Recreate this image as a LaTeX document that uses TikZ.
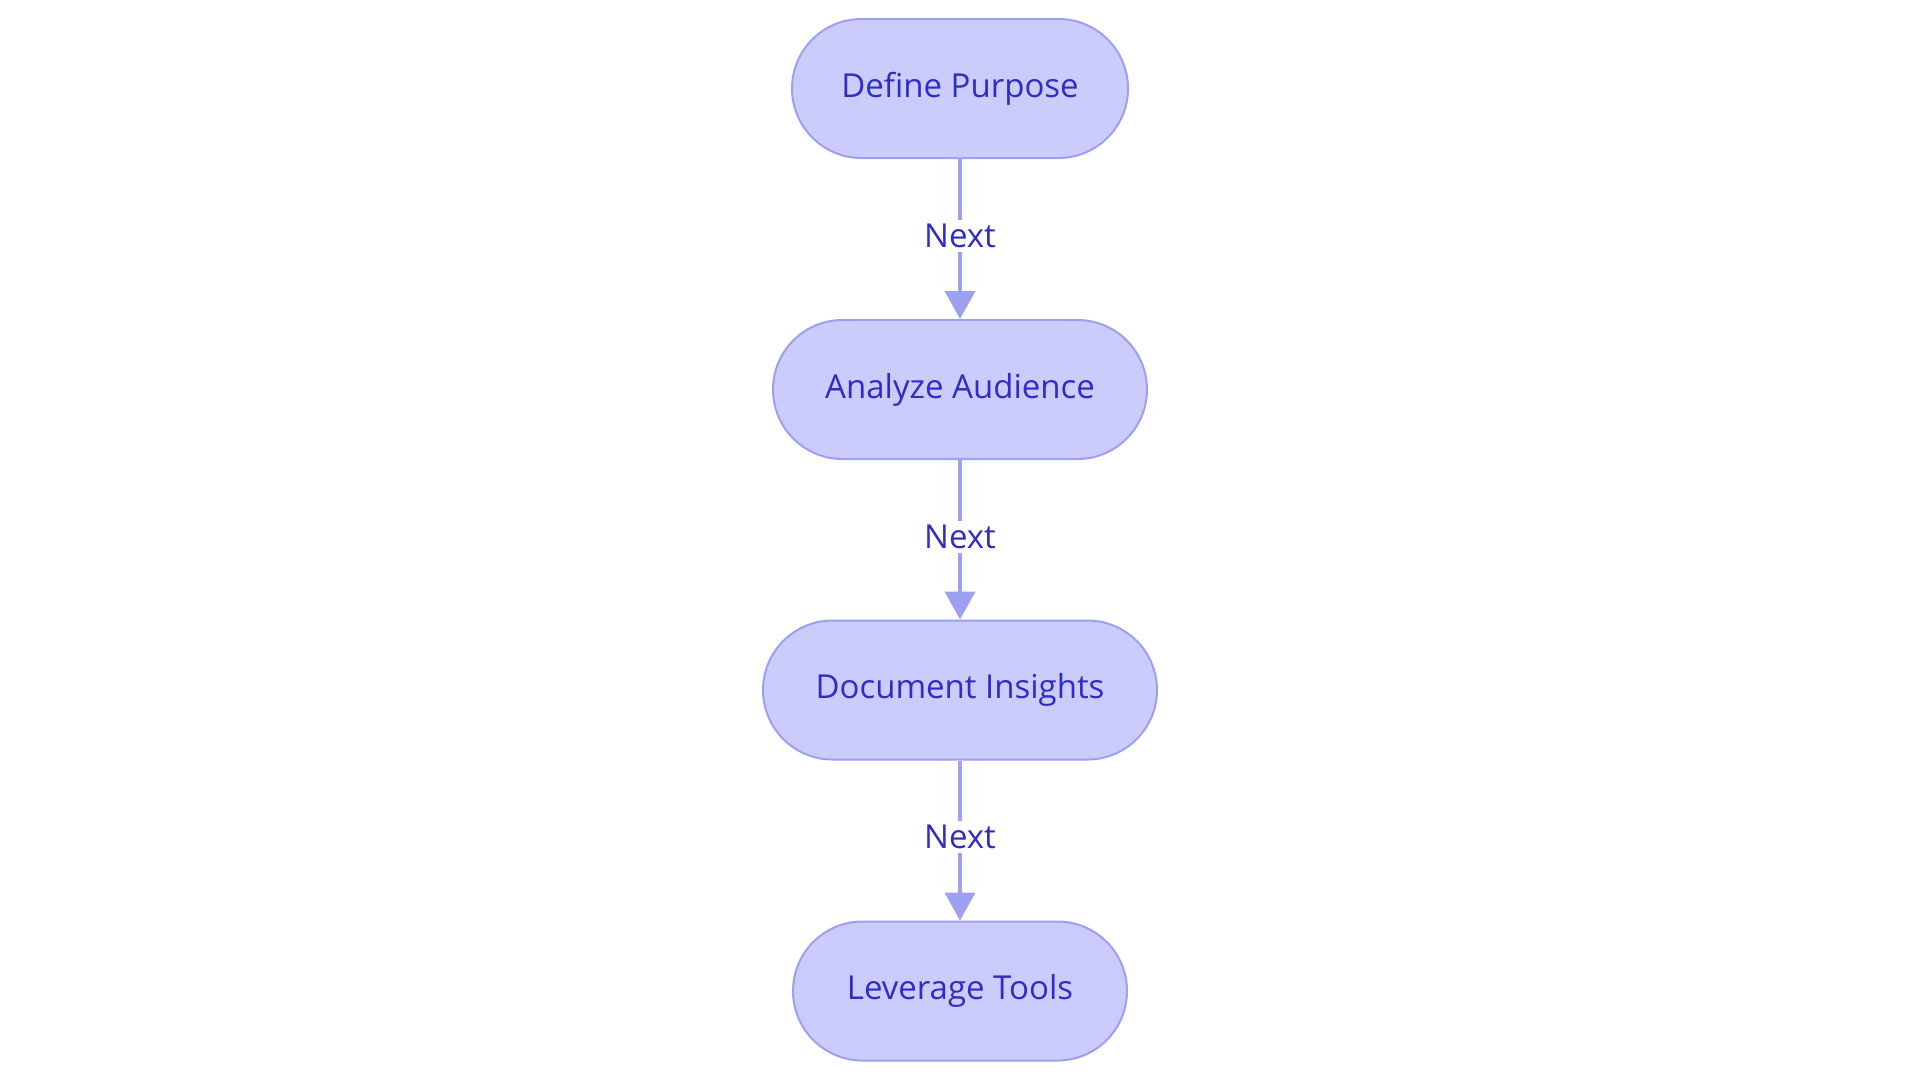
\documentclass[tikz,border=0pt]{standalone}
\usepackage{fontspec}
\setmainfont{Open Sans}
\usetikzlibrary{arrows.meta}

\definecolor{stepfill}{RGB}{203,203,252}
\definecolor{stepline}{RGB}{156,160,240}
\definecolor{steptext}{RGB}{46,46,196}

\tikzset{every picture/.style={line width=1pt}}
\tikzset{
  stepbox/.style={draw=stepline, fill=stepfill, text=steptext, rounded corners=34.75pt,
    minimum height=69.5pt, inner sep=0pt, font=\fontsize{16.5}{19}\selectfont},
  nextlink/.style={draw=stepline, line width=2pt, -{Triangle[length=14pt,width=15pt]}},
  nextlabel/.style={fill=white, text=steptext, inner sep=2pt, font=\fontsize{16.5}{19}\selectfont}
}

\begin{document}
\begin{tikzpicture}[x=0.5pt,y=0.5pt,yscale=-1,xscale=1]
%set diagram left start at 0, and has height of 1083
\path[use as bounding box] (0,0) rectangle (1920,1083);

% Steps
\node [stepbox, minimum width=168pt] (purpose) at (960,88.5) {Define Purpose};
\node [stepbox, minimum width=187pt] (audience) at (960,389.5) {Analyze Audience};
\node [stepbox, minimum width=197pt] (insights) at (960,690) {Document Insights};
\node [stepbox, minimum width=167pt] (tools) at (960,991) {Leverage Tools};

% Links
\draw [nextlink] (purpose) -- node [nextlabel, pos=0.48] {Next} (audience);
\draw [nextlink] (audience) -- node [nextlabel, pos=0.48] {Next} (insights);
\draw [nextlink] (insights) -- node [nextlabel, pos=0.48] {Next} (tools);

\end{tikzpicture}
\end{document}
